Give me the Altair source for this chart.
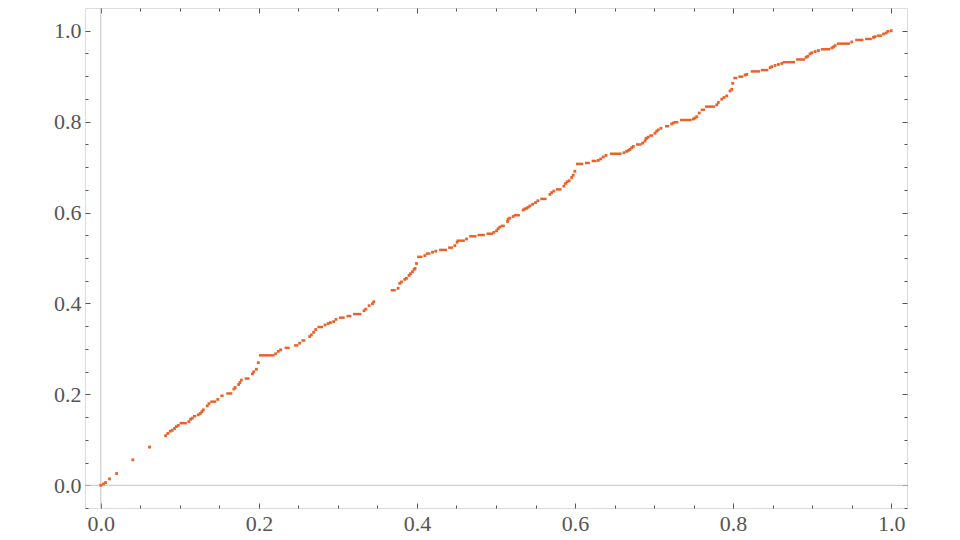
import altair as alt
import pandas as pd

# isolated points (x, y)
pt_x = [0.0, 0.0034, 0.006, 0.011, 0.020, 0.0405, 0.0617, 0.082, 0.0848, 0.0879, 0.0904, 0.0933, 0.0955, 0.098,
        0.1114, 0.1136, 0.1157, 0.1233, 0.1259, 0.1279, 0.1297, 0.1347, 0.1368, 0.148,
        0.1684, 0.170, 0.1744, 0.176, 0.1778, 0.1917, 0.1934, 0.1968, 0.1993,
        0.2212, 0.2246, 0.2276, 0.2516, 0.2643, 0.2664, 0.2693, 0.2719,
        0.2837, 0.2875, 0.2905, 0.2947, 0.2976, 0.333, 0.3352, 0.3394, 0.3437, 0.3453,
        0.3761, 0.3782, 0.3804, 0.3846, 0.3867, 0.39, 0.3918, 0.3943, 0.3964, 0.3976, 0.3994,
        0.4099, 0.4197, 0.4238, 0.4479, 0.4508, 0.4627,
        0.4973, 0.5007, 0.5027, 0.5049, 0.5146, 0.5154, 0.5175, 0.5217,
        0.5344, 0.5365, 0.5387, 0.5407, 0.5429, 0.5463, 0.550, 0.553,
        0.5682, 0.5703, 0.5732, 0.5859, 0.588, 0.5901, 0.5926, 0.5957, 0.5977, 0.5998,
        0.6294, 0.6324, 0.6357, 0.6391, 0.6619, 0.6653, 0.6673, 0.6695, 0.6716, 0.6737,
        0.6856, 0.6885, 0.6897, 0.6906, 0.6927, 0.7011, 0.7033, 0.7053, 0.7087,
        0.7223, 0.7244, 0.7497, 0.7518, 0.754, 0.7572,
        0.7793, 0.7813, 0.7856, 0.7885, 0.7919, 0.7961, 0.7983, 0.7995,
        0.8151, 0.8173, 0.8468, 0.8489, 0.8531, 0.8573, 0.8616,
        0.8924, 0.8945, 0.8974, 0.8996, 0.9038, 0.9079, 0.9249, 0.927, 0.9291,
        0.9502, 0.9776, 0.9797, 0.9903, 0.9937, 0.9958, 1.0]
pt_y = [0.0, 0.003, 0.006, 0.014, 0.026, 0.056, 0.084, 0.109, 0.114, 0.119, 0.121, 0.125, 0.129, 0.1316,
        0.140, 0.1453, 0.1475, 0.155, 0.158, 0.162, 0.166, 0.1746, 0.1796, 0.189,
        0.2117, 0.215, 0.2217, 0.226, 0.2313, 0.245, 0.2494, 0.2553, 0.2697,
        0.2893, 0.2946, 0.298, 0.3127, 0.3273, 0.3308, 0.3367, 0.3426,
        0.3526, 0.3557, 0.3578, 0.36, 0.365, 0.384, 0.3875, 0.395, 0.3993, 0.4037,
        0.4333, 0.4443, 0.4473, 0.453, 0.4552, 0.4617, 0.4654, 0.4698, 0.4748, 0.477, 0.4879,
        0.5053, 0.5128, 0.515, 0.5272, 0.5346, 0.5418,
        0.5564, 0.5599, 0.5643, 0.568, 0.5804, 0.5854, 0.5876, 0.5913,
        0.6057, 0.6079, 0.6094, 0.6116, 0.6144, 0.6181, 0.622, 0.626,
        0.64, 0.6437, 0.6472, 0.6581, 0.664, 0.6677, 0.6699, 0.6771, 0.6821, 0.6908,
        0.7148, 0.7179, 0.7222, 0.7257, 0.7316, 0.7345, 0.7366, 0.7388, 0.7425, 0.7454,
        0.7528, 0.7572, 0.7622, 0.7637, 0.7659, 0.7746, 0.779, 0.7818, 0.7855,
        0.7949, 0.7971, 0.8058, 0.808, 0.8108, 0.8189,
        0.837, 0.8422, 0.8494, 0.8531, 0.8566, 0.8675, 0.8712, 0.8843,
        0.9025, 0.904, 0.9186, 0.9208, 0.9236, 0.9258, 0.928,
        0.9417, 0.9439, 0.9492, 0.9514, 0.9542, 0.9564, 0.9622, 0.9644, 0.9673,
        0.9753, 0.9854, 0.9869, 0.9928, 0.995, 0.9985, 1.0]

# flat runs of densely packed points (x start, x end, y)
run_x0 = [0.0996, 0.1165, 0.1385, 0.1512, 0.1588, 0.182, 0.2001, 0.2326, 0.2444, 0.2538, 0.274, 0.3014, 0.3108,
          0.3191, 0.3668, 0.4002, 0.4112, 0.428, 0.4394, 0.45, 0.466, 0.4766, 0.488, 0.5061, 0.5226, 0.556,
          0.5758, 0.6011, 0.6125, 0.621, 0.6442, 0.6771, 0.6939, 0.7138, 0.7252, 0.7328, 0.759, 0.7645,
          0.8003, 0.8066, 0.8223, 0.835, 0.8629, 0.8797, 0.911, 0.9312, 0.9544, 0.967, 0.9819]
run_x1 = [0.1089, 0.1208, 0.1461, 0.1554, 0.1664, 0.1883, 0.22, 0.239, 0.25, 0.2588, 0.2811, 0.3086, 0.3171,
          0.3297, 0.3732, 0.407, 0.4171, 0.4381, 0.4457, 0.4606, 0.4754, 0.4859, 0.4964, 0.5112, 0.5302, 0.564,
          0.583, 0.6104, 0.6188, 0.6273, 0.659, 0.6843, 0.699, 0.7193, 0.7307, 0.7476, 0.7645, 0.7771,
          0.8054, 0.813, 0.8341, 0.8446, 0.8784, 0.8911, 0.9228, 0.948, 0.9649, 0.9755, 0.9882]
run_y = [0.1366, 0.152, 0.184, 0.197, 0.202, 0.2348, 0.2858, 0.3024, 0.3077, 0.3186, 0.3482, 0.3688, 0.3722,
         0.3766, 0.429, 0.5025, 0.5097, 0.5178, 0.5228, 0.5381, 0.5477, 0.5505, 0.5534, 0.5708, 0.5941, 0.630,
         0.6509, 0.707, 0.7091, 0.7135, 0.7294, 0.7497, 0.7694, 0.7899, 0.7986, 0.8036, 0.8261, 0.833,
         0.8959, 0.899, 0.9105, 0.9134, 0.9308, 0.9367, 0.9592, 0.9716, 0.9797, 0.9819, 0.9891]

major_ticks = [0.0, 0.2, 0.4, 0.6, 0.8, 1.0]
minor_ticks = [0.05, 0.1, 0.15, 0.25, 0.3, 0.35, 0.45, 0.5, 0.55, 0.65, 0.7, 0.75, 0.85, 0.9, 0.95]
minor_ticks_y = [-0.05] + minor_ticks

COLOR = "#e8622a"
FRAME = "#555555"
LABEL = "#555555"
FONT = "Liberation Serif"

pts = pd.DataFrame({"x": pt_x, "y": pt_y})
runs = pd.DataFrame({"x0": run_x0, "x1": run_x1, "y": run_y})

XS = alt.Scale(domain=[-0.02, 1.02], nice=False, zero=False)
YS = alt.Scale(domain=[-0.05, 1.05], nice=False, zero=False)


def tick_axis(orient, values, size, labels=False):
    kw = dict(orient=orient, values=values, offset=-size, tickSize=size, tickColor=FRAME,
              tickWidth=1, domain=False, grid=False, title=None, labels=labels)
    if labels:
        kw.update(format=".1f", labelFont=FONT, labelFontSize=22, labelColor=LABEL,
                  labelPadding=5 if orient in ("bottom", "top") else 4)
    return alt.Axis(**kw)


def carrier(xaxis, yaxis):
    return alt.Chart(pts).mark_point(opacity=0).encode(
        x=alt.X("x:Q", scale=XS, axis=xaxis),
        y=alt.Y("y:Q", scale=YS, axis=yaxis),
    )


axA = carrier(tick_axis("bottom", major_ticks, 5, True), tick_axis("left", major_ticks, 5, True))
axB = carrier(tick_axis("bottom", minor_ticks, 3), tick_axis("left", minor_ticks_y, 3))
axC = carrier(tick_axis("top", major_ticks, 5), tick_axis("right", major_ticks, 5))
axD = carrier(tick_axis("top", minor_ticks, 3), tick_axis("right", minor_ticks_y, 3))

zero_v = alt.Chart(pd.DataFrame({"v": [0.0]})).mark_rule(color="#c4c4c4", strokeWidth=1).encode(
    x=alt.X("v:Q", scale=XS, axis=None))
zero_h = alt.Chart(pd.DataFrame({"v": [0.0]})).mark_rule(color="#c4c4c4", strokeWidth=1).encode(
    y=alt.Y("v:Q", scale=YS, axis=None))

run_layer = alt.Chart(runs).mark_rule(color=COLOR, strokeWidth=2.5).encode(
    x=alt.X("x0:Q", scale=XS, axis=None),
    x2="x1:Q",
    y=alt.Y("y:Q", scale=YS, axis=None),
)
pt_layer = alt.Chart(pts).mark_square(color=COLOR, size=8, opacity=1).encode(
    x=alt.X("x:Q", scale=XS, axis=None),
    y=alt.Y("y:Q", scale=YS, axis=None),
)

chart = alt.layer(zero_v, zero_h, axA, axB, axC, axD, run_layer, pt_layer).resolve_axis(
    x="independent", y="independent"
).properties(
    width=822, height=500,
    autosize=alt.AutoSizeParams(type="none"),
    padding={"left": 77, "top": 0, "right": 10, "bottom": 40},
).configure_view(stroke=FRAME, strokeWidth=1.2).configure(background="white")

chart.save("out.html", embed_options={"renderer": "svg", "actions": False})
